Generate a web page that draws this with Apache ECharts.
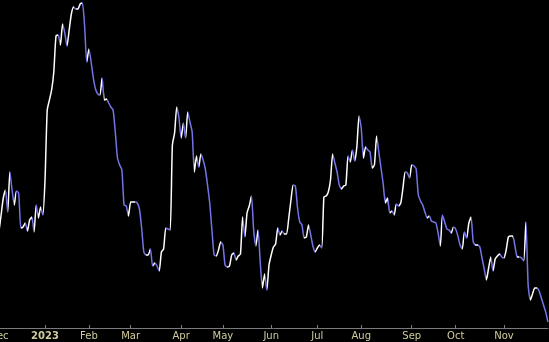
<!DOCTYPE html>
<html><head><meta charset="utf-8">
<script src="https://cdn.jsdelivr.net/npm/echarts@6/dist/echarts.min.js"></script>
<style>html,body{margin:0;padding:0;background:#000}#c{width:549px;height:342px}</style>
</head><body><div id="c"></div>
<script>
// Trading-day calendar (Dec 2022 – Nov 2023)
const holidays = ['2022-12-26','2023-01-02','2023-01-16','2023-02-20','2023-04-07','2023-05-29','2023-06-19','2023-07-04','2023-09-04','2023-11-23'];
// Tick labels, one per month start
const monthLabels = ['Dec','2023','Feb','Mar','Apr','May','Jun','Jul','Aug','Sep','Oct','Nov'];
// Series values (one per trading day)
const values = [
 96,113,130,138,116,156,138,123,137,135,
 100,101,105,97,108,111,96,123,110,121,
 113,148,218,228,238,256,292,293,283,304,
 295,282,298,314,321,319,319,324,325,303,
 266,279,266,250,239,234,233,250,228,229,
 225,221,218,196,170,163,158,123,122,112,
 126,126,126,125,119,100,76,73,73,79,
 62,65,62,57,76,79,100,99,98,183,
 195,221,210,190,205,190,216,206,196,156,
 172,161,174,168,159,143,125,98,73,72,
 78,86,83,63,61,62,73,75,68,72,
 74,111,91,115,122,132,98,82,98,66,
 40,54,38,63,73,81,84,100,93,97,
 94,94,110,128,143,142,120,106,103,90,
 91,103,93,82,76,80,83,80,131,132,
 136,148,174,165,156,143,139,142,143,172,
 166,178,167,181,212,200,170,181,178,176,
 160,163,192,176,160,144,125,130,115,117,
 113,124,122,125,140,156,155,150,163,162,
 159,133,127,123,116,110,112,107,106,105,
 95,82,113,106,99,98,95,101,99,92,
 83,79,96,90,105,111,86,83,83,81,
 70,59,48,60,71,57,69,72,74,71,
 70,78,91,92,92,82,71,71,70,67,
 106,43,28,34,40,40,37,30,23,16,
 6
];

const dates = [];
for (let d = new Date(Date.UTC(2022,11,1)); d.getTime() <= Date.UTC(2023,10,30); d.setUTCDate(d.getUTCDate()+1)) {
  const wd = d.getUTCDay();
  if (wd === 0 || wd === 6) continue;
  const s = d.toISOString().slice(0,10);
  if (holidays.includes(s)) continue;
  dates.push(s);
}
const labelAt = {};
let m = 0;
dates.forEach((s,i) => {
  if (i === 0 || s.slice(5,7) !== dates[i-1].slice(5,7)) { labelAt[i] = monthLabels[m++]; }
});

// colour pieces: rising = white, falling = blue
const UP = '#ffffff', DOWN = '#7474e8';
const pieces = [];
for (let i = 0; i < values.length - 1; i++) {
  const c = values[i+1] >= values[i] ? UP : DOWN;
  const last = pieces[pieces.length-1];
  if (last && last.color === c) last.lt = i + 1;
  else pieces.push({gte: i, lt: i + 1, color: c});
}
pieces[pieces.length-1].lte = values.length; delete pieces[pieces.length-1].lt;

const chart = echarts.init(document.getElementById('c'), null, {renderer:'canvas'});
chart.setOption({
  backgroundColor: '#000000',
  animation: false,
  grid: {left: -1.1, right: 1.1, top: 0, bottom: 14, containLabel: false, outerBoundsMode: 'none'},
  xAxis: {
    type: 'category', data: dates, boundaryGap: false,
    axisLine: {lineStyle: {color: '#7a7a7a', width: 1}},
    axisTick: {inside: true, length: 3, lineStyle: {color: '#7a7a7a'}, interval: (i) => labelAt[i] !== undefined},
    axisLabel: {
      interval: (i) => labelAt[i] !== undefined,
      formatter: (v, i) => labelAt[i] === '2023' ? '{b|2023}' : (labelAt[i] || ''),
      color: '#cfcb9c', fontFamily: 'DejaVu Sans', fontSize: 10, margin: 3,
      hideOverlap: false,
      rich: {b: {color: '#cfcb9c', fontFamily: 'DejaVu Sans', fontSize: 10, fontWeight: 'bold'}}
    },
    splitLine: {show: false}
  },
  yAxis: {type: 'value', min: 0, max: 328, show: false, splitLine: {show: false}},
  visualMap: {type: 'piecewise', show: false, dimension: 0, seriesIndex: 0, pieces: pieces},
  series: [{
    type: 'line', data: values, showSymbol: false, smooth: 0.2,
    lineStyle: {width: 1.5}
  }]
});
</script></body></html>
